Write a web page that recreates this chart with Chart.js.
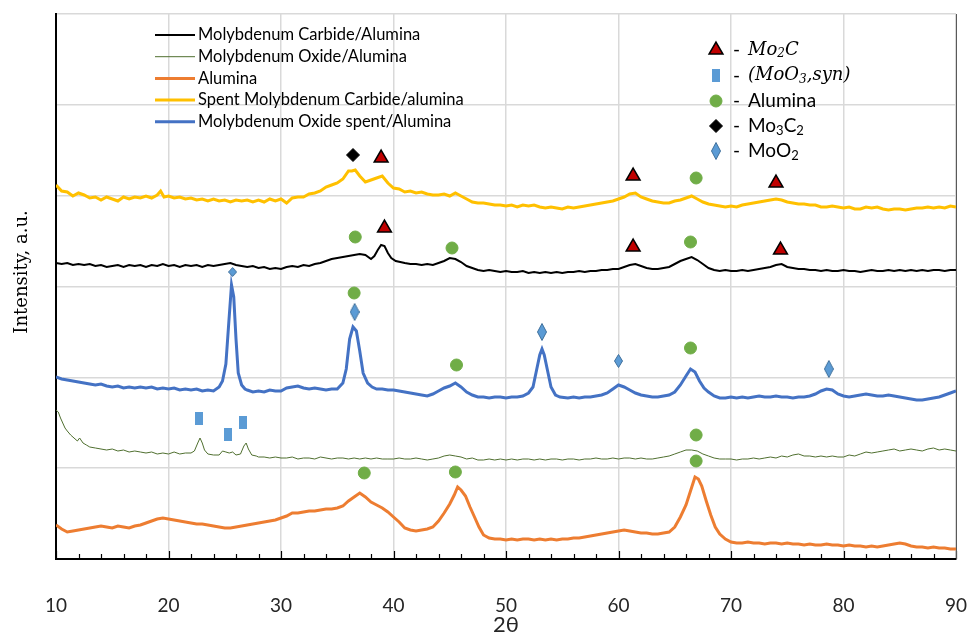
<!DOCTYPE html>
<html lang="en">
<head>
  <meta charset="UTF-8">
  <title>XRD patterns - Molybdenum catalysts</title>
  <script src="https://cdn.jsdelivr.net/npm/chart.js"></script>
  <style>
    body { margin: 0; background: #fff; }
  </style>
</head>
<body>
  <canvas id="xrdChart" width="972" height="634"></canvas>

  <script>
    // 2theta / intensity (a.u., stacked with offsets)
    const carbide = [[10,296],[10.5,295],[11,296],[11.5,294],[12,295],[12.5,294],[13,295],[13.5,293],[14,294],[14.5,292],[15,293],[15.5,294],[16,292],[16.5,294],[17,293],[17.5,294],[18,292],[18.5,294],[19,293],[19.5,295],[20,293],[20.5,294],[21,292],[21.5,294],[22,293],[22.5,294],[23,292],[23.5,294],[24,293],[24.5,294],[25,295],[25.5,296],[26,294],[26.5,293],[27,292],[27.5,293],[28,291],[28.5,292],[29,290],[29.5,291],[30,290],[30.5,292],[31,293],[31.5,292],[32,294],[32.5,293],[33,295],[33.5,296],[34,298],[34.5,300],[35,301],[35.5,302],[36,303],[36.5,304],[37,305],[37.5,304],[38,300],[38.3,303],[38.6,309],[38.9,314],[39.2,313],[39.5,306],[39.8,301],[40.2,298],[40.6,297],[41,296],[41.5,295],[42,295],[42.5,294],[43,295],[43.5,294],[44,296],[44.5,298],[45,301],[45.5,300],[46,297],[46.5,293],[47,291],[47.5,289],[48,288],[48.5,289],[49,288],[49.5,287],[50,288],[50.5,287],[51,287],[51.5,288],[52,286],[52.5,287],[53,286],[53.5,287],[54,286],[54.5,287],[55,286],[55.5,287],[56,287],[56.5,288],[57,287],[57.5,288],[58,288],[58.5,289],[59,289],[59.5,290],[60,290],[60.5,292],[61,294],[61.5,295],[62,293],[62.5,291],[63,290],[63.5,290],[64,291],[64.5,292],[65,295],[65.5,298],[66,300],[66.5,302],[67,299],[67.5,295],[68,291],[68.5,289],[69,288],[69.5,289],[70,288],[70.5,288],[71,289],[71.5,288],[72,289],[72.5,290],[73,291],[73.5,292],[74,294],[74.5,295],[75,292],[75.5,291],[76,290],[76.5,290],[77,289],[77.5,289],[78,288],[78.5,289],[79,288],[79.5,288],[80,289],[80.5,288],[81,288],[81.5,287],[82,288],[82.5,289],[83,288],[83.5,288],[84,289],[84.5,288],[85,289],[85.5,288],[86,289],[86.5,288],[87,289],[87.5,288],[88,289],[88.5,289],[89,288],[89.5,289],[90,289]];

    const oxide = [[10,149],[10.2,147],[10.4,141],[10.6,136],[10.8,131],[11,128],[11.3,124],[11.6,121],[11.9,118],[12.1,121],[12.4,116],[12.7,114],[13,112],[13.5,111],[14,110],[14.5,109],[15,110],[15.5,108],[16,109],[16.5,107],[17,108],[17.5,107],[18,106],[18.5,107],[19,105],[19.5,106],[20,105],[20.5,107],[21,105],[21.5,106],[22,106],[22.3,108],[22.6,116],[22.8,121],[23,116],[23.2,109],[23.5,105],[24,104],[24.5,104],[24.8,108],[25.1,107],[25.4,106],[25.7,107],[26,104],[26.4,105],[26.7,113],[26.9,116],[27.1,110],[27.4,104],[27.8,103],[28,102],[28.5,102],[29,101],[29.5,102],[30,101],[30.5,101],[31,102],[31.5,100],[32,101],[32.5,101],[33,100],[33.5,102],[34,101],[34.5,100],[35,101],[35.5,101],[36,100],[36.5,101],[37,100],[37.5,101],[38,100],[38.5,101],[39,100],[39.5,100],[40,100],[40.5,101],[41,100],[41.5,100],[42,101],[42.5,100],[43,99],[43.5,100],[44,101],[44.5,103],[45,104],[45.5,103],[46,102],[46.5,100],[47,101],[47.5,99],[48,99],[48.5,100],[49,99],[49.5,100],[50,99],[50.5,100],[51,99],[51.5,100],[52,100],[52.5,99],[53,100],[53.5,99],[54,100],[54.5,100],[55,99],[55.5,100],[56,100],[56.5,99],[57,100],[57.5,100],[58,101],[58.5,100],[59,100],[59.5,101],[60,100],[60.5,101],[61,101],[61.5,100],[62,101],[62.5,100],[63,100],[63.5,101],[64,102],[64.5,103],[65,105],[65.5,107],[66,109],[66.5,109],[67,108],[67.5,105],[68,103],[68.5,101],[69,100],[69.5,100],[70,100],[70.5,99],[71,100],[71.5,100],[72,101],[72.5,100],[73,101],[73.5,102],[74,101],[74.5,103],[75,102],[75.5,104],[76,105],[76.5,103],[77,103],[77.5,102],[78,103],[78.5,102],[79,103],[79.5,102],[80,102],[80.5,104],[81,103],[81.5,105],[82,107],[82.5,106],[83,107],[83.5,108],[84,109],[84.5,110],[85,108],[85.5,109],[86,110],[86.5,109],[87,108],[87.5,110],[88,111],[88.5,109],[89,110],[89.5,109],[90,108]];

    const alumina = [[10,34],[10.5,30],[11,27],[11.5,28],[12,29],[12.5,30],[13,31],[13.5,32],[14,33],[14.5,32],[15,31],[15.5,33],[16,32],[16.5,31],[17,33],[17.5,34],[18,36],[18.5,38],[19,40],[19.5,41],[20,40],[20.5,39],[21,38],[21.5,37],[22,36],[22.5,35],[23,35],[23.5,34],[24,33],[24.5,32],[25,31],[25.5,31],[26,32],[26.5,33],[27,34],[27.5,35],[28,36],[28.5,37],[29,38],[29.5,39],[30,41],[30.5,43],[31,46],[31.5,46],[32,47],[32.5,48],[33,48],[33.5,49],[34,50],[34.5,50],[35,51],[35.5,53],[36,58],[36.5,62],[37,66],[37.5,62],[38,57],[38.5,54],[39,51],[39.5,47],[40,42],[40.5,37],[41,31],[41.5,29],[42,28],[42.5,29],[43,30],[43.5,32],[44,38],[44.5,46],[45,55],[45.4,64],[45.7,72],[46,69],[46.4,63],[46.8,52],[47.2,42],[47.6,32],[48,24],[48.5,21],[49,20],[49.5,20],[50,19],[50.5,20],[51,19],[51.5,20],[52,20],[52.5,19],[53,20],[53.5,19],[54,20],[54.5,19],[55,20],[55.5,20],[56,21],[56.5,21],[57,22],[57.5,23],[58,24],[58.5,25],[59,26],[59.5,27],[60,28],[60.5,29],[61,28],[61.5,27],[62,26],[62.5,26],[63,25],[63.5,25],[64,26],[64.5,27],[65,32],[65.5,42],[66,54],[66.4,68],[66.8,82],[67.1,80],[67.4,73],[67.8,58],[68.2,44],[68.6,32],[69,25],[69.5,20],[70,17],[70.5,16],[71,16],[71.5,17],[72,16],[72.5,16],[73,15],[73.5,16],[74,16],[74.5,15],[75,16],[75.5,15],[76,15],[76.5,14],[77,15],[77.5,14],[78,14],[78.5,15],[79,14],[79.5,14],[80,13],[80.5,14],[81,13],[81.5,13],[82,12],[82.5,13],[83,12],[83.5,13],[84,14],[84.5,15],[85,16],[85.5,15],[86,13],[86.5,12],[87,12],[87.5,11],[88,12],[88.5,11],[89,11],[89.5,10],[90,10]];

    const spentCarbide = [[10,374],[10.5,368],[11,367],[11.5,363],[12,366],[12.5,364],[13,361],[13.5,362],[14,359],[14.5,362],[15,360],[15.5,358],[16,362],[16.5,360],[17,362],[17.5,361],[18,363],[18.5,361],[19,364],[19.3,368],[19.6,362],[20,363],[20.5,361],[21,362],[21.5,360],[22,361],[22.5,359],[23,360],[23.5,358],[24,360],[24.5,358],[25,359],[25.5,357],[26,359],[26.5,358],[27,359],[27.5,357],[28,359],[28.5,357],[29,360],[29.5,358],[30,360],[30.5,356],[31,361],[31.5,362],[32,362],[32.5,365],[33,366],[33.5,368],[34,372],[34.5,374],[35,376],[35.5,380],[36,388],[36.3,388],[36.6,389],[37,383],[37.5,377],[38,379],[38.5,381],[39,383],[39.5,376],[40,371],[40.5,370],[41,367],[41.5,368],[42,366],[42.5,367],[43,365],[43.5,364],[44,364],[44.5,365],[45,363],[45.5,366],[46,363],[46.5,360],[47,357],[47.5,356],[48,356],[48.5,355],[49,354],[49.5,354],[50,353],[50.5,354],[51,352],[51.5,354],[52,353],[52.5,354],[53,352],[53.5,351],[54,352],[54.5,351],[55,350],[55.5,352],[56,351],[56.5,352],[57,353],[57.5,354],[58,355],[58.5,356],[59,357],[59.5,358],[60,360],[60.5,362],[61,365],[61.5,366],[62,362],[62.5,360],[63,358],[63.5,357],[64,356],[64.5,356],[65,358],[65.5,359],[66,361],[66.5,363],[67,360],[67.5,357],[68,355],[68.5,354],[69,353],[69.5,352],[70,353],[70.5,352],[71,354],[71.5,355],[72,356],[72.5,357],[73,358],[73.5,359],[74,360],[74.5,359],[75,357],[75.5,356],[76,355],[76.5,355],[77,354],[77.5,354],[78,352],[78.5,352],[79,353],[79.5,352],[80,351],[80.5,352],[81,350],[81.5,350],[82,352],[82.5,351],[83,352],[83.5,350],[84,349],[84.5,350],[85,350],[85.5,349],[86,350],[86.5,351],[87,351],[87.5,352],[88,351],[88.5,352],[89,351],[89.5,353],[90,352]];

    const spentOxide = [[10,182],[10.5,180],[11,179],[11.5,178],[12,177],[12.5,176],[13,175],[13.5,174],[14,175],[14.5,173],[15,172],[15.5,173],[16,171],[16.5,172],[17,171],[17.5,172],[18,171],[18.5,172],[19,170],[19.5,171],[20,170],[20.5,171],[21,169],[21.5,170],[22,169],[22.5,170],[23,168],[23.5,169],[24,168],[24.5,172],[24.8,178],[25.1,195],[25.35,235],[25.6,274],[25.8,262],[26,220],[26.2,186],[26.5,174],[26.8,170],[27,169],[27.5,167],[28,168],[28.5,167],[29,169],[29.5,168],[30,168],[30.5,171],[31,172],[31.5,173],[32,171],[32.5,170],[33,171],[33.5,170],[34,169],[34.5,170],[35,170],[35.5,176],[35.8,190],[36.1,220],[36.4,232],[36.7,228],[37,208],[37.3,186],[37.7,176],[38.1,172],[38.5,170],[39,170],[39.5,169],[40,169],[40.5,168],[41,167],[41.5,166],[42,165],[42.5,164],[43,163],[43.5,165],[44,168],[44.5,171],[45,173],[45.5,176],[46,172],[46.5,167],[47,164],[47.5,162],[48,162],[48.5,161],[49,162],[49.5,162],[50,161],[50.5,162],[51,162],[51.5,163],[52,166],[52.4,172],[52.7,188],[53,204],[53.2,210],[53.4,204],[53.7,188],[54,172],[54.4,164],[54.8,162],[55.5,161],[56,162],[56.5,161],[57,162],[57.5,162],[58,163],[58.5,164],[59,166],[59.5,170],[60,174],[60.5,172],[61,169],[61.5,166],[62,164],[62.5,163],[63,162],[63.5,162],[64,163],[64.5,164],[65,167],[65.5,174],[66,183],[66.4,190],[66.8,187],[67.2,178],[67.6,171],[68,167],[68.5,163],[69,161],[69.5,161],[70,162],[70.5,161],[71,162],[71.5,161],[72,162],[72.5,163],[73,162],[73.5,162],[74,163],[74.5,162],[75,162],[75.5,161],[76,162],[76.5,162],[77,163],[77.5,165],[78,168],[78.5,170],[79,169],[79.5,165],[80,163],[80.5,162],[81,163],[81.5,164],[82,165],[82.5,164],[83,163],[83.5,163],[84,164],[84.5,163],[85,162],[85.5,161],[86,160],[86.5,159],[87,159],[87.5,160],[88,161],[88.5,162],[89,164],[89.5,166],[90,168]];

    // phase markers (2theta, intensity)
    const mo2cAngle = [38.9, 61.3, 74.0, 39.2, 61.3, 74.4];
    const mo2cI     = [401, 383, 376, 331, 312, 309];
    const moo3Angle = [22.7, 25.3, 26.65];
    const moo3I     = [141, 125, 137];
    const alAngle   = [66.9, 36.6, 45.2, 66.4, 36.5, 45.6, 66.4, 66.9, 37.4, 45.5, 66.9];
    const alI       = [381, 322, 311, 317, 266, 194, 211, 124, 86, 87, 98];
    const mo3c2Angle = [36.4];
    const mo3c2I     = [404];
    const moo2Angle = [25.7, 36.55, 53.2, 60.0, 78.7];
    const moo2I     = [287, 247, 227, 198, 190];

    const xTicks = [10, 20, 30, 40, 50, 60, 70, 80, 90];
    const yMax = 545;
    const yGridCount = 6;

    const toXY = pairs => pairs.map(([a, v]) => ({ x: a, y: v }));
    const zipXY = (a, v) => a.map((ang, i) => ({ x: ang, y: v[i] }));

    // small shapes for the markers that Chart.js has no style for
    function shape(w, h, fill, stroke, kind) {
      const c = document.createElement('canvas');
      c.width = w; c.height = h;
      const g = c.getContext('2d');
      g.fillStyle = fill;
      g.strokeStyle = stroke;
      g.lineWidth = 1;
      g.beginPath();
      if (kind === 'diamond') {
        g.moveTo(w / 2, 0.5); g.lineTo(w - 0.5, h / 2);
        g.lineTo(w / 2, h - 0.5); g.lineTo(0.5, h / 2);
        g.closePath();
        g.fill(); g.stroke();
      } else {
        g.rect(0, 0, w, h);
        g.fill();
      }
      return c;
    }
    const diamondSmall = shape(9, 10, '#5b9bd5', '#41719c', 'diamond');
    const diamondMid = shape(9, 14, '#5b9bd5', '#41719c', 'diamond');
    const diamondBig = shape(10, 18, '#5b9bd5', '#41719c', 'diamond');
    const squareMark = shape(8, 13, '#5b9bd5', null, 'rect');

    const lineSeries = [
      { label: 'Molybdenum Carbide/Alumina', data: carbide, color: '#000000', width: 2 },
      { label: 'Molybdenum Oxide/Alumina', data: oxide, color: '#4f6f2f', width: 1 },
      { label: 'Alumina', data: alumina, color: '#ed7d31', width: 3 },
      { label: 'Spent Molybdenum Carbide/alumina', data: spentCarbide, color: '#ffc000', width: 3 },
      { label: 'Molybdenum Oxide spent/Alumina', data: spentOxide, color: '#4472c4', width: 3 }
    ];

    const datasets = lineSeries.map(s => ({
      label: s.label,
      data: toXY(s.data),
      borderColor: s.color,
      borderWidth: s.width,
      pointRadius: 0,
      tension: 0,
      order: 2
    }));

    const markerBase = { showLine: false, order: 1, pointBorderWidth: 1 };
    datasets.push(
      { ...markerBase, label: 'Mo2C', data: zipXY(mo2cAngle, mo2cI), pointStyle: 'triangle', pointRadius: 8,
        pointBackgroundColor: '#c00000', pointBorderColor: '#000', pointBorderWidth: 1.5 },
      { ...markerBase, label: 'MoO3,syn', data: zipXY(moo3Angle, moo3I), pointStyle: squareMark, pointRadius: 5 },
      { ...markerBase, label: 'Alumina', data: zipXY(alAngle, alI), pointStyle: 'circle', pointRadius: 6,
        pointBackgroundColor: '#70ad47', pointBorderColor: '#70ad47' },
      { ...markerBase, label: 'Mo3C2', data: zipXY(mo3c2Angle, mo3c2I), pointStyle: 'rectRot', pointRadius: 6.5,
        pointBackgroundColor: '#000', pointBorderColor: '#000' },
      { ...markerBase, label: 'MoO2', data: zipXY(moo2Angle, moo2I), pointRadius: 5,
        pointStyle: [diamondSmall, diamondBig, diamondBig, diamondMid, diamondBig] }
    );

    // draw text made of pieces (for subscripts)
    function drawRich(ctx, x, y, parts) {
      ctx.textBaseline = 'middle';
      ctx.textAlign = 'left';
      parts.forEach(p => {
        ctx.font = p.font;
        ctx.fillText(p.t, x, y + (p.sub ? p.sub : 0));
        x += ctx.measureText(p.t).width;
      });
    }

    const decor = {
      id: 'decor',
      beforeDatasetsDraw(chart) {
        const { ctx, chartArea, scales } = chart;
        ctx.save();
        // inside tick marks on the 2theta axis
        ctx.strokeStyle = '#000';
        ctx.lineWidth = 1.2;
        for (let v = 10; v <= 90; v += 2) {
          const px = Math.round(scales.x.getPixelForValue(v)) + 0.5;
          const len = v % 10 === 0 ? 8 : 5;
          ctx.beginPath();
          ctx.moveTo(px, chartArea.bottom);
          ctx.lineTo(px, chartArea.bottom - len);
          ctx.stroke();
        }
        ctx.strokeStyle = '#595959';
        ctx.lineWidth = 1;
        ctx.beginPath();
        ctx.moveTo(chartArea.right + 0.5, chartArea.top);
        ctx.lineTo(chartArea.right + 0.5, chartArea.bottom);
        ctx.stroke();
        ctx.restore();
      },
      afterDraw(chart) {
        const ctx = chart.ctx;
        ctx.save();
        // y axis title
        ctx.save();
        ctx.translate(22, 272);
        ctx.rotate(-Math.PI / 2);
        ctx.fillStyle = '#000';
        ctx.font = '18px "DejaVu Serif"';
        ctx.textAlign = 'center';
        ctx.textBaseline = 'middle';
        ctx.fillText('Intensity, a.u.', 0, 0);
        ctx.restore();

        // series legend (top left)
        lineSeries.forEach((s, i) => {
          const y = 35 + i * 21.7;
          ctx.strokeStyle = s.color;
          ctx.lineWidth = s.width;
          ctx.beginPath();
          ctx.moveTo(155, y);
          ctx.lineTo(195, y);
          ctx.stroke();
          ctx.fillStyle = '#000';
          drawRich(ctx, 198, y, [{ t: s.label, font: '16.5px Lato' }]);
        });

        // phase legend (top right)
        const mx = 716, dx = 733, tx = 748;
        const rows = [50, 75.5, 101, 126, 151];
        const sans = '19px Lato', sansSub = '13px Lato';
        const ital = 'italic 18px "DejaVu Serif"', italSub = 'italic 12px "DejaVu Serif"';
        const H = Chart.helpers;

        ctx.fillStyle = '#c00000'; ctx.strokeStyle = '#000'; ctx.lineWidth = 1.5;
        H.drawPoint(ctx, { pointStyle: 'triangle', radius: 8, borderWidth: 1.5, rotation: 0 }, mx, rows[0]);
        H.drawPoint(ctx, { pointStyle: squareMark, radius: 5, rotation: 0 }, mx, rows[1]);
        ctx.fillStyle = '#70ad47'; ctx.strokeStyle = '#70ad47'; ctx.lineWidth = 1;
        H.drawPoint(ctx, { pointStyle: 'circle', radius: 6, borderWidth: 1, rotation: 0 }, mx, rows[2]);
        ctx.fillStyle = '#000'; ctx.strokeStyle = '#000';
        H.drawPoint(ctx, { pointStyle: 'rectRot', radius: 6.5, borderWidth: 1, rotation: 0 }, mx, rows[3]);
        H.drawPoint(ctx, { pointStyle: diamondBig, radius: 5, rotation: 0 }, mx, rows[4]);

        ctx.fillStyle = '#000';
        rows.forEach(y => drawRich(ctx, dx, y, [{ t: '-', font: sans }]));
        drawRich(ctx, tx, rows[0], [{ t: 'Mo', font: ital }, { t: '2', font: italSub, sub: 4 }, { t: 'C', font: ital }]);
        drawRich(ctx, tx, rows[1], [{ t: '(MoO', font: ital }, { t: '3', font: italSub, sub: 4 }, { t: ',syn)', font: ital }]);
        drawRich(ctx, tx, rows[2], [{ t: 'Alumina', font: sans }]);
        drawRich(ctx, tx, rows[3], [{ t: 'Mo', font: sans }, { t: '3', font: sansSub, sub: 5 }, { t: 'C', font: sans }, { t: '2', font: sansSub, sub: 5 }]);
        drawRich(ctx, tx, rows[4], [{ t: 'MoO', font: sans }, { t: '2', font: sansSub, sub: 5 }]);
        ctx.restore();
      }
    };

    const ctx = document.getElementById('xrdChart').getContext('2d');
    window.xrdChart = new Chart(ctx, {
      type: 'line',
      data: { datasets },
      options: {
        responsive: false,
        animation: false,
        layout: { padding: { top: 14, right: 16, left: 0, bottom: 0 } },
        plugins: {
          legend: { display: false },
          tooltip: { enabled: false }
        },
        scales: {
          x: {
            type: 'linear',
            min: 10,
            max: 90,
            afterBuildTicks: scale => { scale.ticks = xTicks.map(v => ({ value: v })); },
            afterFit: scale => {
              scale.height = 75;
              scale.paddingLeft = 0;
              scale.paddingRight = 0;
            },
            ticks: {
              color: '#262626',
              font: { family: 'Lato', size: 19 },
              padding: 35,
              maxRotation: 0
            },
            grid: { color: '#d9d9d9', lineWidth: 1.5, drawTicks: false },
            border: { color: '#000', width: 2 },
            title: {
              display: true,
              text: '2θ',
              color: '#262626',
              font: { family: 'Lato', size: 22 },
              padding: { top: 0, bottom: -4 }
            }
          },
          y: {
            type: 'linear',
            min: 0,
            max: yMax,
            afterBuildTicks: scale => {
              scale.ticks = Array.from({ length: yGridCount + 1 }, (_, i) => ({ value: i * yMax / yGridCount }));
            },
            afterFit: scale => { scale.width = 56; },
            ticks: { display: false },
            grid: { color: '#d9d9d9', lineWidth: 1.5, drawTicks: false },
            border: { color: '#000', width: 2 }
          }
        }
      },
      plugins: [decor]
    });
  </script>
</body>
</html>
